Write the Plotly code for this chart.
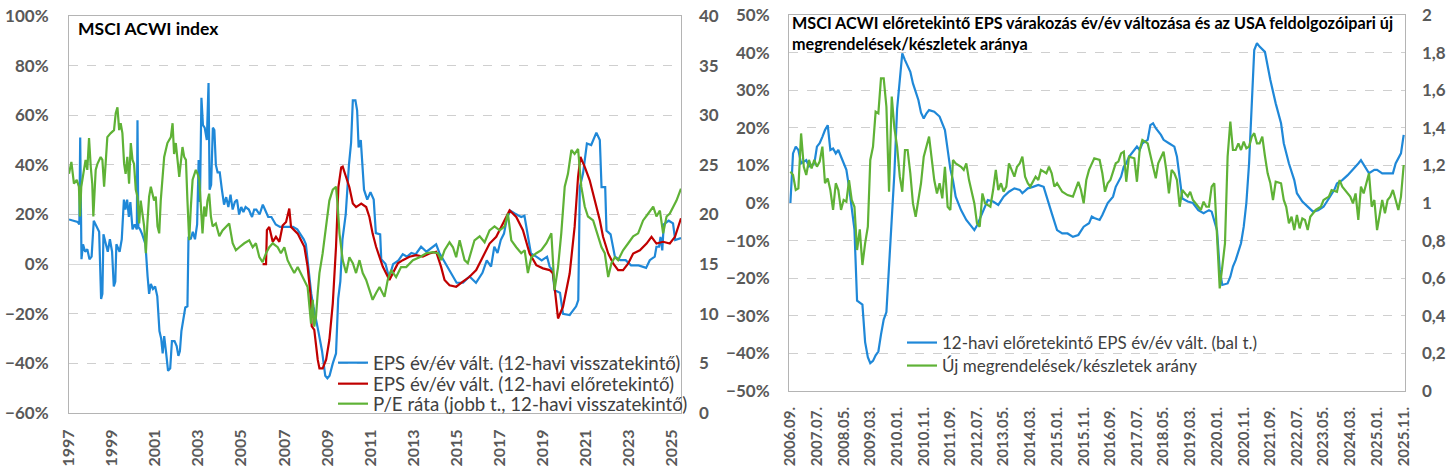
import plotly.graph_objects as go
import pandas as pd

# ---------------- Left chart data (decimal years) ----------------
eps_trail_year = [1997.00, 1997.40, 1997.48, 1997.52, 1997.58, 1997.65, 1997.75, 1997.85, 1997.95, 1998.05,
                  1998.15, 1998.30, 1998.40, 1998.49, 1998.55, 1998.60, 1998.70, 1998.80, 1998.90, 1999.00,
                  1999.08, 1999.15, 1999.20, 1999.35, 1999.45, 1999.55, 1999.62, 1999.70, 1999.78, 1999.85,
                  1999.95, 2000.05, 2000.15, 2000.18, 2000.22, 2000.30, 2000.40, 2000.55, 2000.65, 2000.72,
                  2000.80, 2000.90, 2001.00, 2001.10, 2001.20, 2001.28, 2001.35, 2001.42, 2001.50, 2001.60,
                  2001.70, 2001.78, 2001.90, 2002.00, 2002.08, 2002.15, 2002.22, 2002.30, 2002.40, 2002.50,
                  2002.55, 2002.65, 2002.75, 2002.85, 2002.95, 2003.02, 2003.08, 2003.15, 2003.22, 2003.30,
                  2003.40, 2003.48, 2003.53, 2003.60, 2003.68, 2003.75, 2003.82, 2003.90, 2004.00, 2004.10,
                  2004.20, 2004.30, 2004.40, 2004.50, 2004.60, 2004.70, 2004.80, 2004.90, 2005.00, 2005.10,
                  2005.20, 2005.35, 2005.50, 2005.60, 2005.70, 2005.85, 2006.00, 2006.10, 2006.25, 2006.40,
                  2006.60, 2006.80, 2007.00, 2007.20, 2007.40, 2007.60, 2007.75, 2007.90, 2008.00, 2008.10,
                  2008.25, 2008.35, 2008.45, 2008.60, 2008.75, 2008.90, 2009.00, 2009.10, 2009.25, 2009.40,
                  2009.50, 2009.60, 2009.70, 2009.85, 2010.00, 2010.10, 2010.18, 2010.30, 2010.38, 2010.45,
                  2010.55, 2010.70, 2010.85, 2011.00, 2011.15, 2011.25, 2011.45, 2011.50, 2011.70, 2011.85,
                  2011.95, 2012.05, 2012.30, 2012.50, 2012.70, 2012.90, 2013.10, 2013.35, 2013.60, 2013.90,
                  2014.05, 2014.20, 2014.40, 2014.60, 2014.83, 2015.00, 2015.30, 2015.60, 2015.90, 2016.20,
                  2016.40, 2016.60, 2016.75, 2016.90, 2017.05, 2017.20, 2017.35, 2017.50, 2017.70, 2018.00,
                  2018.15, 2018.30, 2018.45, 2018.70, 2018.95, 2019.20, 2019.32, 2019.45, 2019.55, 2019.80,
                  2019.94, 2020.25, 2020.55, 2020.65, 2020.72, 2020.87, 2021.05, 2021.25, 2021.49, 2021.65,
                  2021.73, 2021.90, 2021.96, 2022.15, 2022.35, 2022.60, 2022.85, 2023.10, 2023.45, 2023.80,
                  2023.97, 2024.20, 2024.28, 2024.40, 2024.47, 2024.55, 2024.62, 2024.85, 2025.05, 2025.15,
                  2025.42]
eps_trail_val = [18.0, 17.0, 16.0, 51.0, 2.0, 8.0, 5.0, 6.0, 2.0, 3.0,
                 17.5, 15.0, 13.0, -14.0, -12.0, 12.0, 8.0, 5.0, 10.0, 5.0,
                 -9.0, -7.0, 8.0, 5.0, 10.0, 26.0, 22.0, 26.0, 19.0, 25.0,
                 14.0, 16.0, 14.0, 58.0, 15.0, 14.0, 12.0, 8.0, -5.0, -12.0,
                 -8.0, -10.0, -9.0, -13.0, -27.0, -30.0, -36.0, -29.0, -35.0, -43.0,
                 -42.0, -31.0, -31.0, -33.0, -37.0, -35.0, -27.0, -22.0, -17.5, -17.0,
                 11.0, 10.0, 13.0, 10.0, 16.0, 42.0, 25.0, 67.0, 56.0, 55.0,
                 50.0, 73.0, 30.0, 32.0, 55.0, 54.0, 40.0, 37.0, 37.0, 30.0,
                 24.0, 27.0, 23.0, 28.0, 22.0, 25.0, 26.0, 20.0, 23.0, 21.0,
                 23.0, 22.0, 19.0, 22.0, 22.0, 20.0, 24.0, 22.0, 19.0, 19.0,
                 16.0, 15.0, 15.0, 15.0, 15.0, 14.0, 12.0, 10.0, 8.0, -1.0,
                 -12.0, -17.0, -22.0, -28.0, -35.0, -45.0, -46.0, -45.0, -40.0, -36.0,
                 -14.0, -7.0, 10.0, 20.0, 40.0, 49.0, 66.0, 66.0, 62.0, 47.0,
                 50.0, 30.0, 26.0, 29.0, 26.0, 12.5, 12.0, 2.0, 0.0, -5.0,
                 -3.0, 0.0, 1.5, 4.0, 3.0, 4.5, 4.0, 7.0, 5.0, 7.0,
                 8.0, 4.5, 1.5, -1.0, -5.0, -7.5, -7.5, -5.0, -7.5, -3.5,
                 1.5, -1.0, 7.0, 4.5, 9.7, 12.3, 19.0, 21.5, 20.4, 19.0,
                 19.5, 12.3, 4.3, 3.0, 1.5, 3.0, -1.0, -2.4, -10.5, -11.5,
                 -20.0, -20.5, -17.0, -14.5, 31.0, 36.5, 48.6, 48.0, 53.0, 50.0,
                 31.0, 31.0, 13.5, 12.0, 3.0, 1.6, 1.6, -0.5, -0.5, -1.5,
                 1.6, 3.0, 7.0, 7.0, 11.0, 5.5, 16.0, 17.5, 16.4, 9.7,
                 10.5]

eps_fwd_year = [2005.99, 2006.15, 2006.19, 2006.30, 2006.46, 2006.61, 2006.77, 2006.92, 2007.08, 2007.23,
                2007.31, 2007.46, 2007.62, 2007.77, 2007.93, 2008.08, 2008.21, 2008.27, 2008.39, 2008.55,
                2008.63, 2008.78, 2008.94, 2009.09, 2009.25, 2009.40, 2009.51, 2009.64, 2009.71, 2009.87,
                2010.02, 2010.18, 2010.33, 2010.57, 2010.80, 2010.95, 2011.10, 2011.26, 2011.57, 2011.88,
                2012.04, 2012.27, 2012.50, 2012.81, 2013.12, 2013.43, 2013.74, 2014.05, 2014.28, 2014.44,
                2014.67, 2014.98, 2015.29, 2015.60, 2015.91, 2016.22, 2016.53, 2016.84, 2017.15, 2017.46,
                2017.77, 2018.08, 2018.39, 2018.70, 2019.01, 2019.32, 2019.48, 2019.60, 2019.71, 2019.94,
                2020.25, 2020.48, 2020.64, 2020.75, 2020.95, 2021.18, 2021.41, 2021.65, 2021.80, 2022.04,
                2022.27, 2022.50, 2022.73, 2022.97, 2023.20, 2023.51, 2023.82, 2024.05, 2024.28, 2024.59,
                2024.90, 2025.14, 2025.42]
eps_fwd_val = [0.0, 0.0, 13.7, 15.0, 9.0, 11.0, 9.0, 15.6, 17.0, 22.4,
               15.0, 13.7, 12.3, 9.7, 7.0, -1.0, -12.0, -25.0, -26.5, -38.5,
               -42.0, -42.0, -38.5, -30.6, -15.8, 7.0, 31.0, 39.0, 39.3, 35.0,
               31.0, 24.4, 23.0, 24.4, 23.0, 19.0, 12.3, 7.0, -1.0, -6.4,
               -3.8, 0.3, 1.6, 3.0, 3.6, 3.0, 4.3, 5.0, -1.1, -6.4,
               -8.5, -9.1, -7.1, -5.1, -2.4, 3.0, 8.3, 11.0, 16.4, 21.7,
               19.0, 13.7, 4.3, -0.4, -1.7, -2.4, -3.8, -14.5, -21.9, -17.2,
               -3.8, 15.0, 35.2, 43.2, 39.2, 33.8, 25.8, 17.7, 11.0, 4.3,
               0.3, -2.4, -2.4, 0.3, 4.3, 5.6, 8.3, 11.0, 8.3, 9.0,
               8.3, 11.0, 18.5]

pe_year = [1997.00, 1997.11, 1997.23, 1997.36, 1997.46, 1997.51, 1997.57, 1997.67, 1997.77, 1997.85,
           1997.93, 1998.01, 1998.08, 1998.13, 1998.24, 1998.32, 1998.47, 1998.55, 1998.63, 1998.70,
           1998.78, 1998.94, 1999.09, 1999.17, 1999.25, 1999.33, 1999.40, 1999.48, 1999.56, 1999.63,
           1999.71, 1999.79, 1999.87, 1999.95, 2000.02, 2000.10, 2000.18, 2000.26, 2000.33, 2000.49,
           2000.57, 2000.64, 2000.72, 2000.80, 2000.95, 2001.03, 2001.11, 2001.19, 2001.26, 2001.42,
           2001.57, 2001.73, 2001.81, 2001.88, 2001.96, 2002.12, 2002.19, 2002.27, 2002.35, 2002.43,
           2002.50, 2002.58, 2002.66, 2002.74, 2002.89, 2002.97, 2003.05, 2003.12, 2003.20, 2003.28,
           2003.36, 2003.43, 2003.51, 2003.59, 2003.67, 2003.82, 2003.98, 2004.13, 2004.29, 2004.44,
           2004.60, 2004.75, 2004.91, 2005.14, 2005.37, 2005.53, 2005.68, 2005.84, 2005.99, 2006.15,
           2006.30, 2006.46, 2006.69, 2006.84, 2007.00, 2007.15, 2007.31, 2007.46, 2007.62, 2007.77,
           2007.93, 2008.08, 2008.24, 2008.32, 2008.39, 2008.47, 2008.55, 2008.63, 2008.78, 2008.94,
           2009.09, 2009.25, 2009.40, 2009.48, 2009.56, 2009.71, 2009.87, 2010.02, 2010.18, 2010.33,
           2010.49, 2010.64, 2010.80, 2010.95, 2011.10, 2011.26, 2011.42, 2011.65, 2011.80, 2011.96,
           2012.19, 2012.42, 2012.66, 2012.97, 2013.28, 2013.59, 2013.90, 2014.13, 2014.28, 2014.44,
           2014.67, 2014.83, 2014.98, 2015.14, 2015.37, 2015.52, 2015.68, 2015.83, 2016.07, 2016.30,
           2016.53, 2016.76, 2017.00, 2017.23, 2017.38, 2017.54, 2017.77, 2018.00, 2018.16, 2018.31,
           2018.47, 2018.70, 2018.93, 2019.17, 2019.40, 2019.48, 2019.55, 2019.71, 2019.86, 2020.02,
           2020.17, 2020.33, 2020.48, 2020.64, 2020.79, 2020.95, 2021.10, 2021.34, 2021.57, 2021.73,
           2021.88, 2022.04, 2022.19, 2022.35, 2022.50, 2022.73, 2022.97, 2023.20, 2023.43, 2023.66,
           2023.90, 2024.13, 2024.28, 2024.44, 2024.59, 2024.75, 2024.90, 2025.06, 2025.21, 2025.42]
pe_val = [24.1, 25.3, 23.1, 23.5, 22.8, 19.8, 22.8, 24.1, 25.5, 24.5,
          27.7, 24.8, 23.1, 19.8, 24.5, 25.1, 25.8, 25.5, 22.8, 25.1,
          27.8, 28.2, 28.5, 30.2, 30.8, 28.5, 29.2, 28.2, 25.1, 24.1,
          25.8, 23.1, 27.2, 25.5, 25.1, 22.5, 21.8, 19.1, 21.4, 18.8,
          16.1, 19.1, 21.8, 22.8, 21.4, 21.8, 18.8, 18.1, 21.4, 25.8,
          27.2, 27.8, 29.2, 26.1, 27.2, 23.8, 25.5, 26.8, 25.8, 25.5,
          21.4, 17.4, 20.8, 23.5, 24.5, 24.1, 23.5, 20.4, 18.1, 20.8,
          19.8, 21.4, 22.1, 19.8, 18.8, 19.1, 17.8, 18.4, 18.8, 19.1,
          17.1, 16.4, 16.7, 17.1, 17.4, 16.7, 17.1, 15.7, 15.2, 16.1,
          16.7, 17.1, 16.7, 16.1, 16.7, 15.4, 14.7, 14.1, 14.7, 14.1,
          13.4, 12.7, 9.0, 11.4, 8.7, 9.7, 12.1, 14.1, 16.1, 18.8,
          21.4, 22.5, 22.8, 20.8, 18.1, 15.4, 14.1, 15.7, 15.1, 14.1,
          15.4, 14.1, 13.4, 12.4, 11.4, 12.1, 12.7, 11.7, 13.4, 14.4,
          13.7, 14.7, 14.7, 15.4, 15.7, 16.1, 16.2, 16.1, 15.4, 16.4,
          17.2, 16.7, 15.7, 17.4, 15.4, 15.1, 16.4, 17.4, 17.8, 17.2,
          18.4, 18.8, 18.4, 18.8, 20.1, 17.4, 16.7, 16.1, 16.4, 14.1,
          15.7, 16.1, 16.4, 17.1, 18.1, 14.4, 12.4, 14.7, 18.1, 22.8,
          24.1, 26.5, 26.1, 26.6, 22.8, 20.8, 19.8, 19.4, 17.8, 16.7,
          16.1, 13.7, 15.1, 15.7, 15.4, 16.4, 17.1, 17.8, 18.1, 19.4,
          20.1, 20.8, 19.8, 20.4, 18.1, 19.8, 20.1, 20.8, 21.4, 22.6]

# ---------------- Right chart data (months since 2006.09.) ----------------
start_month = "2006-09-01"
fwd_eps_month = [0, 1, 2, 3, 4, 5, 6, 7, 9, 10, 11, 12, 13, 14, 15, 16, 17, 18, 19, 21,
                 22, 23, 24, 25, 27, 28, 29, 30, 31, 32, 33, 34, 35, 36, 37, 38, 39, 40, 41, 42,
                 43, 44, 45, 46, 48, 49, 50, 51, 52, 54, 56, 58, 59, 60, 61, 62, 64, 66, 68, 69,
                 70, 72, 74, 76, 78, 80, 82, 84, 86, 87, 89, 91, 93, 95, 97, 98, 100, 102, 104, 106,
                 108, 110, 112, 113, 114, 116, 117, 119, 121, 122, 124, 125, 126, 127, 129, 130, 131, 132, 134, 135,
                 136, 137, 139, 140, 142, 144, 145, 146, 147, 149, 151, 153, 155, 157, 158, 160, 161, 162, 164, 165,
                 166, 167, 169, 170, 171, 172, 173, 174, 175, 176, 178, 179, 180, 182, 184, 185, 187, 189, 190, 192,
                 194, 196, 198, 200, 202, 204, 205, 207, 209, 211, 213, 214, 215, 217, 219, 220, 222, 224, 226, 227,
                 229, 230]
fwd_eps_val = [0.0, 13.2, 15.0, 14.1, 10.5, 11.0, 11.4, 9.7, 10.5, 15.0, 15.9, 17.6, 19.4, 20.7, 14.1, 14.5, 13.2, 14.1, 12.3, 8.8,
               4.3, -1.0, -7.0, -26.0, -27.0, -37.0, -41.0, -42.6, -42.0, -40.5, -39.5, -35.0, -31.0, -29.0, -17.8, -3.6, 7.9, 25.0, 33.0, 39.8,
               38.0, 36.3, 34.9, 31.8, 27.4, 24.0, 22.5, 23.8, 24.7, 24.3, 23.0, 19.4, 13.5, 9.0, 6.0, 1.7, -1.9, -4.5, -6.3, -7.2,
               -6.0, -2.7, 0.8, 0.4, -0.5, 1.7, 3.0, 3.9, 3.5, 2.6, 3.9, 4.3, 4.8, 4.3, 0.0, -2.7, -7.2, -8.1, -8.1, -9.0,
               -8.5, -6.3, -5.4, -3.6, -4.0, -4.5, -3.2, 0.0, 1.7, 4.3, 7.0, 9.7, 10.5, 12.3, 14.1, 15.0, 14.1, 15.9, 16.8, 20.7,
               21.2, 19.9, 18.1, 16.8, 15.9, 15.0, 12.3, 6.1, 1.2, 0.4, 0.0, -1.9, -2.7, -1.9, -2.3, -7.2, -17.8, -21.8, -21.4, -19.6,
               -16.9, -15.2, -10.7, -6.3, 0.0, 10.5, 24.7, 40.7, 42.5, 41.6, 40.2, 36.3, 32.7, 26.5, 21.2, 15.9, 10.5, 6.1, 2.6, 0.4,
               -1.0, -2.3, -1.9, -1.0, 1.2, 3.5, 5.2, 6.1, 7.4, 8.8, 10.5, 11.4, 10.1, 7.9, 8.8, 8.8, 7.9, 7.9, 7.9, 10.5,
               13.2, 18.1]

orders_month = [0, 1, 2, 3, 4, 5, 6, 7, 8, 9, 10, 11, 12, 13, 14, 15, 16, 17, 18, 19,
                20, 21, 22, 23, 24, 25, 26, 27, 28, 29, 30, 31, 32, 33, 34, 35, 36, 37, 38, 39,
                40, 41, 42, 43, 44, 45, 46, 47, 49, 50, 52, 53, 54, 55, 56, 57, 58, 59, 60, 61,
                62, 64, 65, 66, 67, 69, 70, 71, 72, 73, 75, 76, 77, 78, 79, 80, 81, 82, 84, 85,
                86, 87, 88, 89, 90, 92, 93, 94, 96, 97, 98, 99, 100, 102, 103, 104, 106, 107, 108, 109,
                110, 111, 112, 114, 116, 117, 118, 119, 120, 122, 123, 124, 125, 126, 127, 129, 130, 131, 132, 134,
                135, 136, 137, 138, 140, 141, 142, 143, 144, 145, 146, 147, 149, 150, 151, 152, 154, 155, 156, 157,
                158, 159, 160, 161, 162, 163, 164, 165, 166, 167, 168, 169, 170, 171, 172, 173, 174, 175, 176, 177,
                178, 179, 180, 181, 182, 184, 185, 186, 187, 188, 189, 190, 191, 192, 193, 194, 195, 197, 199, 200,
                202, 203, 205, 206, 207, 209, 210, 211, 212, 213, 214, 215, 217, 218, 219, 220, 222, 223, 224, 225,
                226, 227, 228, 229, 230]
orders_val = [1.167, 1.149, 1.069, 1.078, 1.37, 1.193, 1.149, 1.229, 1.184, 1.229, 1.193, 1.22, 1.30, 1.105, 1.131, 1.069, 0.963, 1.105, 1.069, 0.963,
              1.016, 1.007, 1.122, 1.016, 0.98, 0.75, 0.86, 0.67, 0.785, 0.874, 1.229, 1.30, 1.486, 1.477, 1.663, 1.663, 1.512, 1.06, 1.566, 1.40,
              1.30, 1.14, 1.06, 1.282, 1.282, 1.158, 0.998, 0.927, 1.105, 1.246, 1.353, 1.246, 1.122, 1.051, 1.105, 1.025, 1.193, 0.98, 0.963, 1.229,
              1.211, 1.193, 1.176, 1.211, 1.122, 0.998, 0.892, 0.874, 1.051, 0.998, 0.98, 1.069, 1.176, 1.069, 1.105, 1.06, 1.087, 1.211, 1.14, 1.193,
              1.211, 1.246, 1.14, 1.105, 1.087, 1.14, 1.122, 1.176, 1.158, 1.193, 1.158, 1.087, 1.105, 1.06, 1.051, 1.042, 1.034, 1.069, 1.113, 1.069,
              0.998, 1.122, 1.176, 1.238, 1.229, 1.158, 1.06, 1.105, 1.122, 1.211, 1.22, 1.264, 1.273, 1.113, 1.246, 1.238, 1.113, 1.282, 1.335, 1.317,
              1.246, 1.193, 1.131, 1.211, 1.273, 1.176, 1.051, 1.176, 1.158, 1.122, 0.98, 1.069, 1.034, 1.06, 1.016, 0.998, 0.963, 1.007, 0.98, 0.98,
              1.087, 1.105, 0.80, 0.546, 0.66, 0.785, 1.246, 1.433, 1.282, 1.282, 1.317, 1.282, 1.326, 1.291, 1.30, 1.353, 1.371, 1.317, 1.317, 1.353,
              1.25, 1.158, 1.105, 1.016, 1.113, 1.105, 1.016, 0.98, 0.892, 0.927, 0.856, 0.936, 0.865, 0.918, 0.91, 0.856, 0.927, 0.963, 0.98, 1.016,
              1.034, 1.069, 1.06, 1.122, 1.087, 1.051, 1.034, 0.998, 1.051, 0.91, 1.087, 1.051, 1.158, 0.98, 1.016, 0.856, 1.016, 0.945, 1.016, 1.034,
              1.069, 1.016, 0.963, 1.034, 1.202]

right_tick_labels = ["2006.09.", "2007.07.", "2008.05.", "2009.03.", "2010.01.", "2010.11.", "2011.09.", "2012.07.",
                     "2013.05.", "2014.03.", "2015.01.", "2015.11.", "2016.09.", "2017.07.", "2018.05.", "2019.03.",
                     "2020.01.", "2020.11.", "2021.09.", "2022.07.", "2023.05.", "2024.03.", "2025.01.", "2025.11."]
left_tick_years = list(range(1997, 2026, 2))

# ---------------- Build ----------------
FONT = "Lato"
BLUE = "#1f88d8"
RED = "#c00000"
GREEN = "#5fb236"
TICK_COLOR = "#595959"
GRID = "#cfcfcf"
BORDER = "#b4b4b4"
LEG_COLOR = "#404040"

start = pd.Timestamp(start_month)
fwd_eps_dates = [start + pd.DateOffset(months=m) for m in fwd_eps_month]
orders_dates = [start + pd.DateOffset(months=m) for m in orders_month]
right_tick_vals = [pd.Timestamp(lbl[:4] + "-" + lbl[5:7] + "-01") for lbl in right_tick_labels]

LW = 2.2
fig = go.Figure()
fig.add_trace(go.Scatter(x=eps_trail_year, y=eps_trail_val, mode="lines", name="EPS év/év vált. (12-havi visszatekintő)",
                         line=dict(color=BLUE, width=LW), xaxis="x", yaxis="y", legend="legend"))
fig.add_trace(go.Scatter(x=eps_fwd_year, y=eps_fwd_val, mode="lines", name="EPS év/év vált. (12-havi előretekintő)",
                         line=dict(color=RED, width=LW), xaxis="x", yaxis="y", legend="legend2"))
fig.add_trace(go.Scatter(x=pe_year, y=pe_val, mode="lines", name="P/E ráta (jobb t., 12-havi visszatekintő)",
                         line=dict(color=GREEN, width=LW), xaxis="x", yaxis="y2", legend="legend3"))
fig.add_trace(go.Scatter(x=fwd_eps_dates, y=fwd_eps_val, mode="lines", name="12-havi előretekintő EPS év/év vált. (bal t.)",
                         line=dict(color=BLUE, width=LW), xaxis="x2", yaxis="y3", legend="legend4"))
fig.add_trace(go.Scatter(x=orders_dates, y=orders_val, mode="lines", name="Új megrendelések/készletek arány",
                         line=dict(color=GREEN, width=LW), xaxis="x2", yaxis="y4", legend="legend5"))

W, H = 1450, 472
lx0, lx1, ly0, ly1 = 69, 681, 16, 413
rx0, rx1, ry0, ry1 = 789, 1405, 15, 391

tickfont = dict(family=FONT, size=17, color=TICK_COLOR, weight="bold")
xtickfont_left = dict(family=FONT, size=16, color=TICK_COLOR, weight="bold")
xtickfont_right = dict(family=FONT, size=15, color=TICK_COLOR, weight="bold")


def leg(xpx, ypx, size):
    return dict(x=xpx / W, y=1 - ypx / H, xanchor="left", yanchor="middle", bgcolor="rgba(0,0,0,0)",
                font=dict(family=FONT, size=size, color=LEG_COLOR), itemwidth=30, borderwidth=0)


fig.update_layout(
    width=W, height=H, margin=dict(l=0, r=0, t=0, b=0, autoexpand=False),
    paper_bgcolor="white", plot_bgcolor="white",
    separators=", ",
    font=dict(family=FONT),
    showlegend=True,
    xaxis=dict(domain=[lx0 / W, lx1 / W], range=[1997.0, 2025.42], tickvals=left_tick_years,
               ticktext=[str(y) for y in left_tick_years], tickangle=-90, tickfont=xtickfont_left,
               showgrid=False, zeroline=False, showline=True, linecolor=BORDER, mirror=True,
               ticks="", ticklabelstandoff=9, anchor="y", automargin=False),
    yaxis=dict(domain=[1 - ly1 / H, 1 - ly0 / H], range=[-60, 100], dtick=20, ticksuffix="%",
               tickfont=tickfont, showgrid=True, gridcolor=GRID, griddash="dash", gridwidth=1,
               zeroline=True, zerolinecolor="#d9d9d9", zerolinewidth=1,
               showline=True, linecolor=BORDER, mirror=True, ticks="", ticklabelstandoff=16, anchor="x",
               automargin=False),
    yaxis2=dict(overlaying="y", side="right", range=[0, 40], dtick=5, tickfont=tickfont, showgrid=False,
                zeroline=False, showline=False, ticks="", ticklabelstandoff=17, anchor="x", automargin=False),
    xaxis2=dict(domain=[rx0 / W, rx1 / W], type="date", range=["2006-08-16", "2025-11-16"],
                tickvals=right_tick_vals, ticktext=right_tick_labels, tickangle=-90, tickfont=xtickfont_right,
                showgrid=False, zeroline=False, showline=True, linecolor=BORDER, mirror=True,
                ticks="", ticklabelstandoff=9, anchor="y3", automargin=False),
    yaxis3=dict(domain=[1 - ry1 / H, 1 - ry0 / H], range=[-50, 50], dtick=10, ticksuffix="%",
                tickfont=tickfont, showgrid=True, gridcolor=GRID, griddash="dash", gridwidth=1,
                zeroline=True, zerolinecolor="#d9d9d9", zerolinewidth=1,
                showline=True, linecolor=BORDER, mirror=True, ticks="", ticklabelstandoff=15, anchor="x2",
                automargin=False),
    yaxis4=dict(overlaying="y3", side="right", range=[0, 2], dtick=0.2, tickfont=tickfont, showgrid=False,
                zeroline=False, showline=False, ticks="", ticklabelstandoff=16, anchor="x2", automargin=False),
    legend=leg(333, 363, 18.7),
    legend2=leg(333, 384, 18.7),
    legend3=leg(333, 404, 18.7),
    legend4=leg(902, 343, 17),
    legend5=leg(902, 366, 17),
    annotations=[
        dict(text="<b>MSCI ACWI index</b>", x=76 / W, y=1 - 16 / H, xref="paper", yref="paper",
             xanchor="left", yanchor="top", showarrow=False, font=dict(family=FONT, size=17.5, color="black")),
        dict(text="<b>MSCI ACWI előretekintő EPS várakozás év/év változása és az USA feldolgozóipari új<br>megrendelések/készletek aránya</b>",
             x=790 / W, y=1 - 11 / H, xref="paper", yref="paper", xanchor="left", yanchor="top", align="left",
             showarrow=False, font=dict(family=FONT, size=16.2, color="black")),
    ],
)

fig.write_html("out.html")
